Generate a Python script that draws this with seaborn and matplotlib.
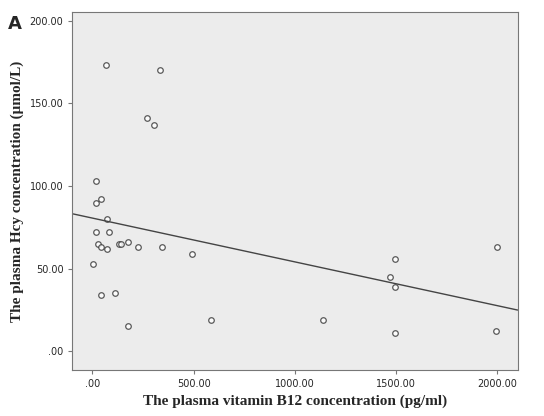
import matplotlib
matplotlib.use("Agg")
import matplotlib.pyplot as plt
import seaborn as sns
import numpy as np
import pandas as pd
from matplotlib.ticker import FuncFormatter

b12 = [69, 336, 272, 306, 20, 20, 44, 74, 84, 20, 30, 44, 74, 133, 143, 178, 227, 346, 5, 490,
       44, 114, 178, 588, 1141, 1472, 1496, 1496, 1496, 2000, 1995]
hcy = [173, 170, 141, 137, 103, 90, 92, 80, 72, 72, 65, 63, 62, 65, 65, 66, 63, 63, 53, 59,
       34, 35, 15, 19, 19, 45, 56, 39, 11, 63, 12]
df = pd.DataFrame({"b12": b12, "hcy": hcy})

sns.set_style("ticks")
fig = plt.figure(figsize=(5.44, 4.16), dpi=100)
ax = fig.add_axes([0.133, 0.11, 0.82, 0.86])
ax.set_facecolor("#ececec")
for s in ax.spines.values():
    s.set_color("#777777")
sns.regplot(data=df, x="b12", y="hcy", ci=None, ax=ax, truncate=False,
            scatter_kws=dict(s=16, facecolors="white", edgecolors="#333333", linewidths=0.9),
            line_kws=dict(color="#444444", lw=1.0))
ax.set_xlim(-99, 2104)
ax.set_ylim(-11.5, 205)
ax.set_xticks([0, 500, 1000, 1500, 2000])
ax.set_yticks([0, 50, 100, 150, 200])
fmt = FuncFormatter(lambda v, p: ".00" if v == 0 else f"{v:.2f}")
ax.xaxis.set_major_formatter(fmt)
ax.yaxis.set_major_formatter(fmt)
ax.tick_params(labelsize=7, length=3, color="#777777")
serif = dict(family="Liberation Serif", fontsize=11, fontweight="bold")
ax.set_xlabel("The plasma vitamin B12 concentration (pg/ml)", **serif)
ax.set_ylabel("The plasma Hcy concentration (\u03bcmol/L)", **serif)
fig.text(0.015, 0.965, "A", fontsize=13, fontweight="bold", va="top")
fig.savefig("out.png", dpi=100)
